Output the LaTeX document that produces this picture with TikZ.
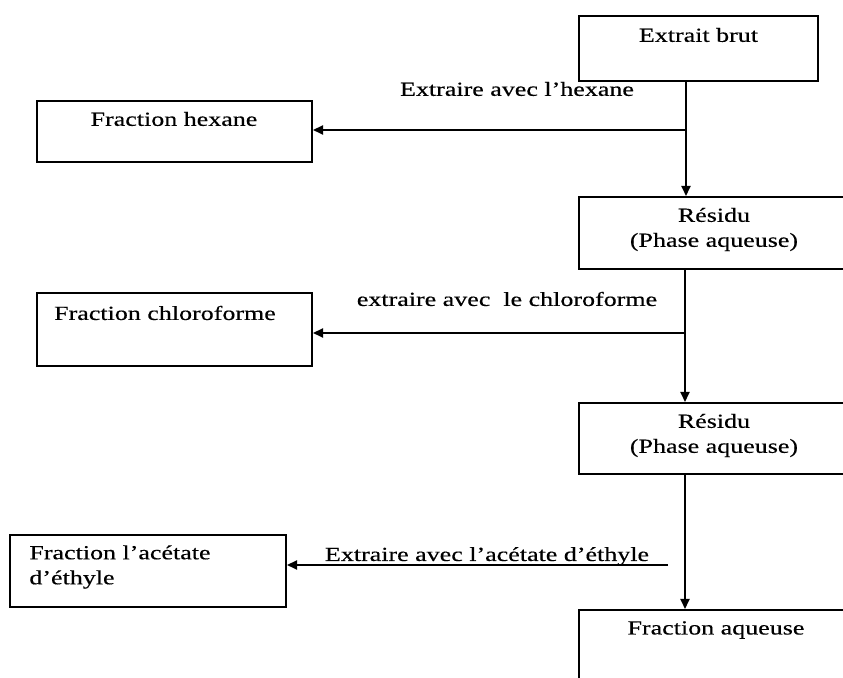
\documentclass[tikz,border=0pt]{standalone}
\usepackage{fontspec}
\setmainfont[FakeStretch=1.3,FakeBold=0.4]{Liberation Serif}
\usetikzlibrary{arrows.meta,positioning}

\begin{document}
\begin{tikzpicture}[x=0.5pt,y=-0.5pt]

\tikzset{line/.style={draw,line width=1pt}}
\tikzset{arrow/.style={line,->,>={Stealth[length=5pt,width=4.5pt,inset=0pt]}}}
\tikzset{textnode/.style={inner sep=0pt,font=\fontsize{10}{12.5}\selectfont}}
\tikzset{box/.style={line,rectangle,inner sep=0pt}}

\useasboundingbox (0,0) rectangle (843,678);
\clip (0,0) rectangle (843,678);

% boxes
\node[box,minimum width=119.5pt,minimum height=32.5pt] (brut) at (698.5,48.5) {};
\node[box,minimum width=137.5pt,minimum height=30.5pt] (hexane) at (174.5,131.5) {};
\node[box,minimum width=135pt,minimum height=36pt] (res1) at (714,233) {};
\node[box,minimum width=137.5pt,minimum height=36.5pt] (chlor) at (174.5,329.5) {};
\node[box,minimum width=135pt,minimum height=35.5pt] (res2) at (714,438.5) {};
\node[box,minimum width=138pt,minimum height=36pt] (ethyl) at (148,571) {};
\node[box,minimum width=135pt,minimum height=60pt] (aq) at (714,670) {};

% box texts
\node[textnode] at (698.5,35) {Extrait brut};
\node[textnode] at (174,119) {Fraction hexane};
\node[textnode,align=center] at (714,229.5) {Résidu\\(Phase aqueuse)};
\node[textnode] at (165,313) {Fraction chloroforme};
\node[textnode,align=center] at (714,435.5) {Résidu\\(Phase aqueuse)};
\node[textnode,align=left,anchor=west] at (29,567) {Fraction l'acétate\\d'éthyle};
\node[textnode] at (716,630) {Fraction aqueuse};

% arrow labels
\node[textnode] (hexlabel) at (517,89) {Extraire avec l'hexane};
\node[textnode] (chlorlabel) at (507,299) {extraire avec\ \ le chloroforme};
\node[textnode,anchor=base] (ethlabel) at (487,561) {Extraire avec l'acétate d'éthyle};

\coordinate (split1) at (686,130);
\coordinate (split2) at (685,333);
\coordinate (ethstart) at (668,565);

\draw[arrow] (brut.south -| split1) -- (res1.north -| split1);
\draw[arrow] (split1) -- (split1 -| hexane.east);
\draw[arrow] (res1.south -| split2) -- (res2.north -| split2);
\draw[arrow] (split2) -- (split2 -| chlor.east);
\draw[arrow] (res2.south -| split2) -- (aq.north -| split2);
\draw[arrow] (ethstart) -- (ethstart -| ethyl.east);

\end{tikzpicture}
\end{document}
